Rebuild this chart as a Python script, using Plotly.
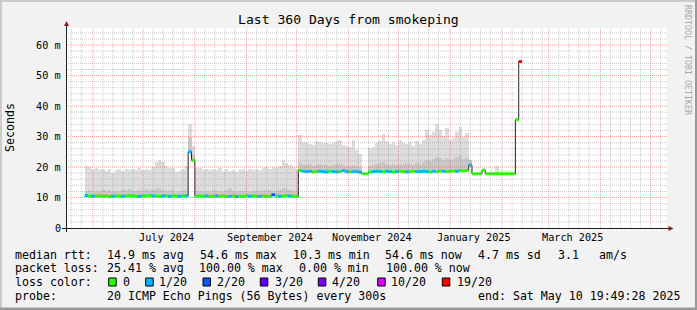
import plotly.graph_objects as go
import pandas as pd

# ---------------- data ----------------
x_start = "2024-05-15 19:49:28"
x_end = "2025-05-10 19:49:28"
first_bin = "2024-05-27"
bin_days = 2

# top of the ping "smoke" (seconds, in ms units)
smoke_top = (
    [20.2, 20.0, 19.4, 19.6, 19.0, 19.3, 18.8, 19.2, 18.2, 19.0, 19.4, 18.7, 19.2, 18.9, 19.5, 19.0,
     19.6, 19.1, 19.4, 19.0, 20.0, 21.8, 22.3, 21.6, 20.2, 19.6, 19.8, 18.3, 18.6, 19.2, 20.4]
    + [34.2, 27.0]
    + [19.6, 19.8, 19.0, 19.3, 18.9, 19.4, 19.1, 19.7, 18.8, 19.3, 18.6, 19.0, 18.4, 18.9, 19.2, 18.7,
       19.3, 18.9, 19.5, 19.0, 19.6, 19.9, 19.4, 20.1, 19.6, 20.3, 22.4, 21.2, 20.6, 20.0, 19.3]
    + [30.6, 28.2, 27.9, 27.6, 27.2, 28.4, 28.1, 27.8, 28.0, 27.4, 27.9, 28.6, 29.0, 27.2, 26.9, 26.7,
       28.9, 25.6, 24.2, None, None, 26.2, 26.6, 27.9, 28.6, 30.8, 28.4, 27.6, 28.3, 27.2, 28.8, 27.9,
       27.4, 28.1, 27.0, 28.4, 27.6, 29.0, 32.2, 30.4, 31.6, 34.2, 32.0, 30.1, 32.8, 28.9, 29.5, 31.4,
       33.0, 29.8, 31.2]
    + [22.4]
    + [None, None, None, None, None, None, None, 20.2, None, None, None, None, None]
    + [None, None]
)

# top of the denser (darker) part of the smoke
smoke_dark = (
    [12.2, 12.5, 12.0, 12.3, 11.9, 12.4, 12.1, 12.6, 11.8, 12.2, 12.0, 12.4, 12.1, 12.7, 12.3, 12.0,
     12.5, 12.2, 12.8, 12.1, 12.4, 12.9, 13.1, 12.6, 12.2, 12.0, 12.4, 11.8, 12.1, 12.3, 12.6]
    + [30.0, 24.0]
    + [12.0, 12.3, 11.9, 12.1, 11.8, 12.4, 12.0, 12.2, 11.9, 12.6, 13.2, 12.3, 11.8, 12.1, 12.0, 12.2,
       11.9, 12.3, 12.1, 12.0, 12.4, 12.2, 12.5, 12.3, 12.1, 12.6, 13.0, 12.7, 12.4, 12.2, 12.0]
    + [21.2, 20.8, 20.6, 20.9, 20.5, 20.7, 21.0, 20.6, 20.8, 20.4, 20.7, 21.1, 20.9, 20.6, 20.5, 20.3,
       20.8, 20.2, 19.9, None, None, 20.4, 20.6, 20.9, 21.2, 21.5, 21.0, 20.8, 21.1, 20.7, 21.0, 20.9,
       21.2, 21.0, 20.8, 21.3, 21.1, 21.6, 22.4, 22.0, 22.6, 23.4, 22.8, 22.2, 23.0, 22.4, 22.7, 23.2,
       23.5, 22.6, 22.9]
    + [22.2]
    + [None] * 13
    + [None, None]
)

median = (
    [10.6, 10.5, 10.4, 10.5, 10.5, 10.4, 10.5, 10.3, 10.4, 10.5, 10.5, 10.4, 10.5, 10.6, 10.5, 10.4,
     10.4, 10.5, 10.5, 10.6, 10.5, 10.5, 10.4, 10.5, 10.5, 10.4, 10.5, 10.5, 10.4, 10.5, 10.5]
    + [25.0, 22.2]
    + [10.4, 10.5, 10.4, 10.5, 10.4, 10.4, 10.5, 10.4, 10.5, 10.4, 10.4, 10.5, 10.3, 10.4, 10.4, 10.5,
       10.4, 10.5, 10.4, 10.4, 10.5, 10.4, 10.4, 10.9, 10.5, 10.4, 10.5, 10.6, 10.5, 10.4, 10.3]
    + [18.9, 18.6, 18.5, 18.6, 18.4, 18.5, 18.6, 18.5, 18.4, 18.6, 18.5, 18.4, 18.5, 18.8, 18.5, 18.4,
       18.5, 18.5, 18.3, 17.8, 17.8, 18.4, 18.5, 18.6, 18.5, 18.5, 18.6, 18.5, 18.4, 18.5, 18.6, 18.5,
       18.4, 18.5, 18.6, 18.5, 18.5, 18.6, 18.5, 18.4, 18.6, 18.5, 18.7, 18.6, 18.5, 18.6, 18.7, 18.6,
       18.8, 18.7, 18.9]
    + [20.6]
    + [17.8, 17.8, 17.8, 19.0, 17.8, 17.8, 17.8, 17.8, 17.8, 17.8, 17.8, 17.8, 17.8]
    + [35.5, 54.6]
)

# lost pings out of 20
loss = (
    [1, 0, 1, 0, 0, 0, 0, 0, 1, 0, 0, 1, 0, 0, 0, 0, 1, 0, 0, 0, 1, 0, 0, 1, 0, 1, 0, 0, 1, 0, 1]
    + [1, 0]
    + [0, 0, 0, 1, 0, 0, 1, 0, 0, 0, 1, 0, 1, 0, 0, 0, 1, 0, 0, 1, 0, 0, 0, 2, 0, 1, 0, 0, 1, 0, 0]
    + [0, 1, 1, 1, 0, 0, 1, 1, 1, 0, 1, 1, 0, 1, 1, 0, 1, 1, 1, 0, 0, 0, 1, 1, 1, 0, 1, 1, 0, 1,
       0, 0, 1, 0, 0, 1, 1, 1, 1, 0, 1, 0, 0, 1, 0, 0, 0, 1, 0, 0, 0]
    + [1]
    + [0, 0, 0, 0, 0, 0, 0, 0, 0, 0, 0, 0, 0]
    + [0, 19]
)

loss_levels = [0, 1, 2, 3, 4, 10, 19]
loss_labels = ["0", "1/20", "2/20", "3/20", "4/20", "10/20", "19/20"]
loss_colors = ["#26ff00", "#00b8ff", "#0059ff", "#5e00ff", "#7e00ff", "#dd00ff", "#ff0000"]

y_tick_vals = [0, 10, 20, 30, 40, 50, 60]
y_tick_text = ["0", "10 m", "20 m", "30 m", "40 m", "50 m", "60 m"]
x_label_dates = ["2024-07-15", "2024-09-15", "2024-11-15", "2025-01-15", "2025-03-15"]
x_label_text = ["July 2024", "September 2024", "November 2024", "January 2025", "March 2025"]
y_max = 65.6

title = "Last 360 Days from smokeping"
y_title = "Seconds"
watermark = "RRDTOOL / TOBI OETIKER"

legend_rows = [
    [(16, "median rtt:"), (107.3, "14.9 ms avg"), (200.7, "54.6 ms max"), (293.3, "10.3 ms min"),
     (386, "54.6 ms now"), (478.7, "4.7 ms sd"), (558.3, "3.1"), (599.3, "am/s")],
    [(16, "packet loss:"), (107.3, "25.41 % avg"), (200, "100.00 % max"), (300, "0.00 % min"),
     (386.7, "100.00 % now")],
    [(16, "loss color:")],
    [(16, "probe:"), (107.3, "20 ICMP Echo Pings (56 Bytes) every 300s"),
     (478.3, "end: Sat May 10 19:49:28 2025")],
]
legend_row_y = [254.5, 268.3, 282.1, 296]
loss_box_x = [108.7, 145.7, 203, 260.3, 318.3, 377.7, 442.3]
loss_text_x = [123.3, 160, 217.3, 275.3, 332.7, 392, 457.3]

# ---------------- layout geometry ----------------
W, H = 697, 310
L, R, T, B = 66, 30, 28, 82
PW, PH = W - L - R, H - T - B
MONO = "DejaVu Sans Mono"


def fx(x):
    return (x - L) / PW


def fy(y):
    return (H - B - y) / PH


SMOKE_LIGHT = "#dddddd"
SMOKE_DARK = "#c8c8c8"
MINOR = "rgba(140,140,140,0.45)"
MAJOR = "rgba(235,70,70,0.5)"
ARROW = "#8a1c1c"
AXIS = "#1e1e1e"

starts = pd.date_range(first_bin, periods=len(median), freq=f"{bin_days}D")
ends = starts + pd.Timedelta(days=bin_days)
bw = bin_days * 86400000
s_str = [s.strftime("%Y-%m-%d %H:%M:%S") for s in starts]
e_str = [e.strftime("%Y-%m-%d %H:%M:%S") for e in ends]

light_h = [None if t is None else t - m for t, m in zip(smoke_top, median)]
dark_h = [None if d is None else d - m for d, m in zip(smoke_dark, median)]

fig = go.Figure()
fig.add_trace(go.Bar(x=s_str, y=light_h, base=median, width=bw, offset=0,
                     marker=dict(color=SMOKE_LIGHT, line=dict(width=0)), hoverinfo="skip"))
fig.add_trace(go.Bar(x=s_str, y=dark_h, base=median, width=bw, offset=0,
                     marker=dict(color=SMOKE_DARK, line=dict(width=0)), hoverinfo="skip"))
fig.add_trace(go.Scatter(x=s_str + [e_str[-1]], y=median + [median[-1]], mode="lines",
                         line=dict(color="#202020", width=1, shape="hv"), hoverinfo="skip"))
for lvl, col in zip(loss_levels, loss_colors):
    xs, ys = [], []
    for s, e, m, l in zip(s_str, e_str, median, loss):
        if l == lvl:
            xs += [s, e, None]
            ys += [m, m, None]
    if xs:
        fig.add_trace(go.Scatter(x=xs, y=ys, mode="lines", line=dict(color=col, width=3),
                                 hoverinfo="skip"))

shapes = []
# vertical grid
t0, t1 = pd.Timestamp(x_start), pd.Timestamp(x_end)
months = pd.date_range("2024-05-01", "2025-05-01", freq="MS")
minor_v, major_v = [], []
for m in months:
    if t0 < m < t1:
        major_v.append(m)
    for d in (6, 12, 18, 24):
        t = m + pd.Timedelta(days=d)
        if t0 < t < t1:
            minor_v.append(t)
for t in minor_v:
    shapes.append(dict(type="line", xref="x", yref="paper", x0=t, x1=t, y0=0, y1=1,
                       line=dict(color=MINOR, width=1, dash="1px,1px"), layer="above"))
for v in range(2, 66, 2):
    if v % 10:
        shapes.append(dict(type="line", xref="paper", yref="y", x0=0, x1=1, y0=v, y1=v,
                           line=dict(color=MINOR, width=1, dash="1px,1px"), layer="above"))
for t in major_v:
    shapes.append(dict(type="line", xref="x", yref="paper", x0=t, x1=t, y0=0, y1=1,
                       line=dict(color=MAJOR, width=1, dash="1px,1px"), layer="above"))
for v in range(10, 66, 10):
    shapes.append(dict(type="line", xref="paper", yref="y", x0=0, x1=1, y0=v, y1=v,
                       line=dict(color=MAJOR, width=1, dash="1px,1px"), layer="above"))

# axes with arrows
shapes.append(dict(type="line", xref="paper", yref="paper", x0=fx(62), x1=fx(669), y0=fy(228.5), y1=fy(228.5),
                   line=dict(color=AXIS, width=1), layer="above"))
shapes.append(dict(type="line", xref="paper", yref="paper", x0=fx(66.5), x1=fx(66.5), y0=fy(232), y1=fy(25),
                   line=dict(color=AXIS, width=1), layer="above"))
shapes.append(dict(type="path", xref="paper", yref="paper",
                   path=f"M {fx(64)} {fy(26)} L {fx(69)} {fy(26)} L {fx(66.5)} {fy(21)} Z",
                   fillcolor=ARROW, line=dict(width=0), layer="above"))
shapes.append(dict(type="path", xref="paper", yref="paper",
                   path=f"M {fx(668.5)} {fy(226)} L {fx(668.5)} {fy(231)} L {fx(673.5)} {fy(228.5)} Z",
                   fillcolor=ARROW, line=dict(width=0), layer="above"))

# image frame
shapes.append(dict(type="rect", xref="paper", yref="paper", x0=fx(0), x1=fx(697), y0=fy(0), y1=fy(2),
                   fillcolor="#cbcbcb", line=dict(width=0), layer="above"))
shapes.append(dict(type="rect", xref="paper", yref="paper", x0=fx(0), x1=fx(2), y0=fy(0), y1=fy(310),
                   fillcolor="#cbcbcb", line=dict(width=0), layer="above"))
shapes.append(dict(type="rect", xref="paper", yref="paper", x0=fx(695), x1=fx(697), y0=fy(0), y1=fy(310),
                   fillcolor="#999999", line=dict(width=0), layer="above"))
shapes.append(dict(type="rect", xref="paper", yref="paper", x0=fx(0), x1=fx(697), y0=fy(307.5), y1=fy(310),
                   fillcolor="#999999", line=dict(width=0), layer="above"))

# loss colour boxes
for bx, col in zip(loss_box_x, loss_colors):
    shapes.append(dict(type="rect", xref="paper", yref="paper", x0=fx(bx), x1=fx(bx + 7.5),
                       y0=fy(286), y1=fy(278), fillcolor=col, line=dict(color="#000000", width=1),
                       layer="above"))

ann = []
ann.append(dict(text=title, xref="paper", yref="paper", x=fx(348), y=fy(19.5), xanchor="center",
                yanchor="middle", showarrow=False, font=dict(family=MONO, size=13.1, color="#000")))
for v, t in zip(y_tick_vals, y_tick_text):
    ann.append(dict(text=t, xref="paper", yref="y", x=fx(60.5), y=v, xanchor="right", yanchor="middle",
                    showarrow=False, borderpad=0, borderwidth=0,
                    font=dict(family=MONO, size=10.2, color="#000")))
for d, t in zip(x_label_dates, x_label_text):
    ann.append(dict(text=t, xref="x", yref="paper", x=d, y=fy(237.5), xanchor="center", yanchor="middle",
                    showarrow=False, borderpad=0, borderwidth=0,
                    font=dict(family=MONO, size=10.2, color="#000")))
ann.append(dict(text=y_title, xref="paper", yref="paper", x=fx(10), y=fy(128), textangle=-90,
                xanchor="center", yanchor="middle", showarrow=False,
                font=dict(family=MONO, size=11.6, color="#000")))
ann.append(dict(text=watermark, xref="paper", yref="paper", x=fx(688), y=fy(60), textangle=90,
                xanchor="center", yanchor="middle", showarrow=False,
                font=dict(family=MONO, size=8.3, color="#a8a8a8")))
for row, yy in zip(legend_rows, legend_row_y):
    for xx, t in row:
        ann.append(dict(text=t, xref="paper", yref="paper", x=fx(xx - 0.8), y=fy(yy), xanchor="left",
                        yanchor="middle", showarrow=False, borderpad=0, borderwidth=0,
                        font=dict(family=MONO, size=11.6, color="#000")))
for xx, t in zip(loss_text_x, loss_labels):
    ann.append(dict(text=t, xref="paper", yref="paper", x=fx(xx - 0.8), y=fy(legend_row_y[2]),
                    xanchor="left", yanchor="middle", showarrow=False, borderpad=0, borderwidth=0,
                    font=dict(family=MONO, size=11.6, color="#000")))

fig.update_layout(
    width=W, height=H,
    margin=dict(l=L, r=R, t=T, b=B, pad=0, autoexpand=False),
    paper_bgcolor="#F2F2F2", plot_bgcolor="#FFFFFF",
    showlegend=False, barmode="overlay", bargap=0,
    xaxis=dict(type="date", range=[x_start, x_end], showgrid=False, zeroline=False,
               showticklabels=False, showline=False, ticks="", fixedrange=True),
    yaxis=dict(range=[0, y_max], showgrid=False, zeroline=False, showticklabels=False,
               showline=False, ticks="", fixedrange=True),
    shapes=shapes, annotations=ann,
)

fig.write_html("out.html", config={"displayModeBar": False})
